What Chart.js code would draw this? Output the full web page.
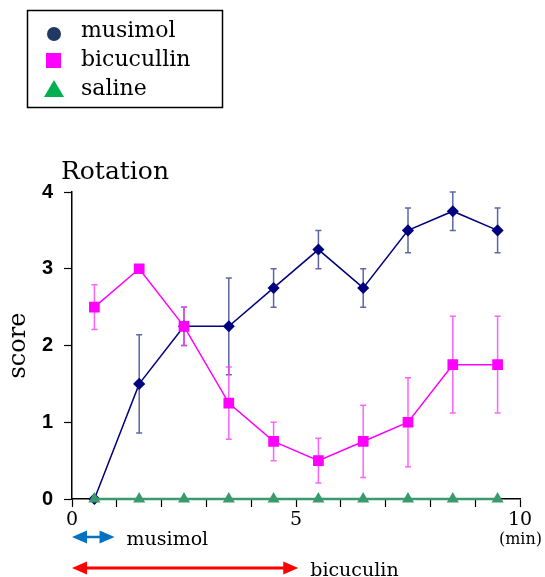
<!DOCTYPE html>
<html>
<head>
<meta charset="utf-8">
<script src="https://cdn.jsdelivr.net/npm/chart.js@4/dist/chart.umd.min.js"></script>
<style>
  html, body { margin: 0; padding: 0; background: #ffffff; }
  #wrap { width: 545px; height: 577px; }
</style>
</head>
<body>
<div id="wrap"><canvas id="rotacao" width="545" height="577"></canvas></div>
<script>
// ---- data ----
const minutes = [0.5, 1.5, 2.5, 3.5, 4.5, 5.5, 6.5, 7.5, 8.5, 9.5];
const musimol = [0, 1.5, 2.25, 2.25, 2.75, 3.25, 2.75, 3.5, 3.75, 3.5];
const musimolErr = [0, 0.64, 0.25, 0.63, 0.25, 0.25, 0.25, 0.29, 0.25, 0.29];
const bicucullin = [2.5, 3, 2.25, 1.25, 0.75, 0.5, 0.75, 1, 1.75, 1.75];
const bicucullinErr = [0.29, 0, 0.25, 0.47, 0.25, 0.29, 0.47, 0.58, 0.63, 0.63];
const saline = [0, 0, 0, 0, 0, 0, 0, 0, 0, 0];
const xTickLabels = [0, 5, 10];
const seriesNames = ['musimol', 'bicucullin', 'saline'];
// infusion periods shown under the axis (min)
const infusionNames = ['musimol', 'bicuculin'];
const infusionStart = [0, 0];
const infusionEnd = [0.95, 5.05];

const SERIF = '"DejaVu Serif", serif';
const SANS = '"Liberation Sans", Arial, sans-serif';

function pts(values) {
    return minutes.map((m, i) => ({ x: m, y: values[i] }));
}

// error bars, drawn under the lines
const errorBars = {
    id: 'errorBars',
    beforeDatasetsDraw(chart) {
        const ctx = chart.ctx;
        const xs = chart.scales.x, ys = chart.scales.y;
        const sets = [
            { vals: musimol, err: musimolErr, color: 'rgba(40, 50, 140, 0.75)' },
            { vals: bicucullin, err: bicucullinErr, color: 'rgba(255, 60, 255, 0.8)' }
        ];
        ctx.save();
        ctx.lineWidth = 1.5;
        sets.forEach(s => {
            ctx.strokeStyle = s.color;
            minutes.forEach((m, i) => {
                if (!s.err[i]) return;
                const px = xs.getPixelForValue(m);
                const top = ys.getPixelForValue(s.vals[i] + s.err[i]);
                const bot = ys.getPixelForValue(s.vals[i] - s.err[i]);
                ctx.beginPath();
                ctx.moveTo(px, top); ctx.lineTo(px, bot);
                ctx.moveTo(px - 3, top); ctx.lineTo(px + 3, top);
                ctx.moveTo(px - 3, bot); ctx.lineTo(px + 3, bot);
                ctx.stroke();
            });
        });
        ctx.restore();
    }
};

function arrow(ctx, x1, x2, y, color, head, shaft) {
    ctx.fillStyle = color;
    ctx.strokeStyle = color;
    ctx.lineWidth = shaft;
    ctx.beginPath();
    ctx.moveTo(x1 + head - 1, y); ctx.lineTo(x2 - head + 1, y);
    ctx.stroke();
    ctx.beginPath();
    ctx.moveTo(x1, y); ctx.lineTo(x1 + head, y - 6.5); ctx.lineTo(x1 + head, y + 6.5);
    ctx.closePath(); ctx.fill();
    ctx.beginPath();
    ctx.moveTo(x2, y); ctx.lineTo(x2 - head, y - 6.5); ctx.lineTo(x2 - head, y + 6.5);
    ctx.closePath(); ctx.fill();
}

// legend box, title, unit and infusion arrows
const extras = {
    id: 'extras',
    afterDraw(chart) {
        const ctx = chart.ctx;
        const xs = chart.scales.x;
        ctx.save();

        // legend
        ctx.strokeStyle = '#000';
        ctx.lineWidth = 1.5;
        ctx.strokeRect(27.5, 10.5, 195, 97);
        ctx.fillStyle = '#1f3864';
        ctx.beginPath(); ctx.arc(54, 34, 7, 0, Math.PI * 2); ctx.fill();
        ctx.fillStyle = '#ff00ff';
        ctx.fillRect(46, 53, 15, 15);
        ctx.fillStyle = '#00b050';
        ctx.beginPath(); ctx.moveTo(54, 80); ctx.lineTo(64, 97); ctx.lineTo(44, 97); ctx.closePath(); ctx.fill();
        ctx.fillStyle = '#000';
        ctx.font = '22px ' + SERIF;
        ctx.textBaseline = 'alphabetic';
        ctx.textAlign = 'left';
        seriesNames.forEach((n, i) => ctx.fillText(n, 81, 37 + i * 29));

        // title
        ctx.font = '25px ' + SERIF;
        ctx.fillText('Rotation', 61, 179);

        // unit
        ctx.font = '16px ' + SERIF;
        ctx.textAlign = 'right';
        ctx.fillText('(min)', 542, 544);

        // infusion arrows
        const colors = ['#0070c0', '#ff0000'];
        const rows = [537, 568];
        ctx.font = '19px ' + SERIF;
        ctx.textAlign = 'left';
        infusionNames.forEach((n, i) => {
            const a = xs.getPixelForValue(infusionStart[i]);
            const b = xs.getPixelForValue(infusionEnd[i]);
            arrow(ctx, a, b, rows[i], colors[i], 15, i === 0 ? 2.5 : 3);
            ctx.fillStyle = '#000';
            ctx.fillText(n, b + 12, rows[i] + 8);
        });
        ctx.restore();
    }
};

const ctx = document.getElementById('rotacao');
new Chart(ctx, {
    type: 'line',
    data: {
        datasets: [
            {
                label: seriesNames[2], data: pts(saline),
                borderColor: '#3a9a6e', backgroundColor: '#3a9a6e', borderWidth: 2.5,
                pointStyle: 'triangle', pointRadius: 4.5, clip: false
            },
            {
                label: seriesNames[1], data: pts(bicucullin),
                borderColor: '#ff00ff', backgroundColor: '#ff00ff', borderWidth: 1.5,
                pointStyle: 'rect', pointRadius: 6.5, clip: false
            },
            {
                label: seriesNames[0], data: pts(musimol),
                borderColor: '#000080', backgroundColor: '#000080', borderWidth: 1.5,
                pointStyle: 'rectRot', pointRadius: 5, clip: false
            }
        ]
    },
    options: {
        responsive: false,
        animation: false,
        layout: { padding: { top: 192, right: 25, left: 0, bottom: 0 } },
        plugins: {
            legend: { display: false },
            tooltip: { enabled: false }
        },
        scales: {
            x: {
                type: 'linear', min: 0, max: 10,
                afterFit: s => { s.height = 78; },
                border: { color: '#000', width: 1.5 },
                grid: { drawOnChartArea: false, tickLength: 8, tickColor: '#000', tickWidth: 1.2 },
                ticks: {
                    stepSize: 1, autoSkip: false, maxRotation: 0, padding: 2,
                    color: '#000', font: { family: SERIF, size: 19 },
                    callback: v => xTickLabels.includes(v) ? String(v) : ''
                }
            },
            y: {
                min: 0, max: 4,
                afterFit: s => { s.width = 72; },
                border: { color: '#000', width: 1.5 },
                grid: { drawOnChartArea: false, tickLength: 8, tickColor: '#000', tickWidth: 1.2 },
                ticks: {
                    stepSize: 1, padding: 11, color: '#000',
                    font: { family: SANS, size: 20, weight: 'bold' }
                },
                title: {
                    display: true, text: 'score', color: '#000',
                    font: { family: SERIF, size: 24 }, padding: { top: 4, bottom: 0 }
                }
            }
        }
    },
    plugins: [errorBars, extras]
});
</script>
</body>
</html>
